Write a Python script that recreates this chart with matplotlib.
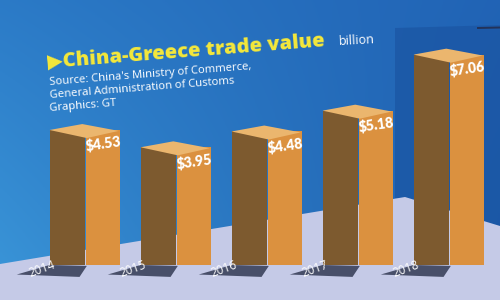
import numpy as np
import matplotlib
matplotlib.use("Agg")
import matplotlib.pyplot as plt
from matplotlib.patches import Polygon

years = ["2014", "2015", "2016", "2017", "2018"]
values = [4.53, 3.95, 4.48, 5.18, 7.06]
labels = ["$4.53", "$3.95", "$4.48", "$5.18", "$7.06"]
title = "\u25b6China-Greece trade value"
unit = "billion"
source_lines = ["Source: China's Ministry of Commerce,",
                "General Administration of Customs",
                "Graphics: GT"]

W, H = 500, 300
fig = plt.figure(figsize=(5, 3), dpi=100)

# background axes in pixel coordinates
bg = fig.add_axes([0, 0, 1, 1])
bg.set_xlim(0, W)
bg.set_ylim(H, 0)
bg.axis("off")
xx, yy = np.meshgrid(np.linspace(0, 1, 200), np.linspace(0, 1, 120))
c_tl = np.array([0.17, 0.48, 0.78])
c_tr = np.array([0.13, 0.39, 0.71])
c_bl = np.array([0.23, 0.59, 0.85])
c_br = np.array([0.11, 0.36, 0.67])
img = ((1 - xx)[..., None] * ((1 - yy)[..., None] * c_tl + yy[..., None] * c_bl)
       + xx[..., None] * ((1 - yy)[..., None] * c_tr + yy[..., None] * c_br))
bg.imshow(img, extent=(0, W, H, 0), aspect="auto", zorder=0)
# slightly darker wall block on the right
bg.add_patch(Polygon([(395, 28), (500, 25), (500, 226), (405, 198), (395, 198)],
                     closed=True, color="#1b56a4", alpha=0.75, zorder=1, lw=0))
bg.plot([478, 500], [28, 27.5], color="#23335a", lw=1.4, zorder=1)
# floor
bg.add_patch(Polygon([(0, 264), (405, 197), (500, 226), (500, 300), (0, 300)],
                     closed=True, color="#c5cae7", zorder=2, lw=0))

# title texts
bg.text(48, 68, title, color="#f5e83a", fontsize=14.5, fontweight="heavy",
        family=["Open Sans", "DejaVu Sans"], rotation=4.5, rotation_mode="anchor",
        ha="left", va="baseline", zorder=5)
bg.text(339, 45, unit, color="white", fontsize=9, family="Open Sans",
        rotation=3, rotation_mode="anchor", ha="left", va="baseline", zorder=5)
for i, line in enumerate(source_lines):
    bg.text(50, 85 + 12.8 * i, line, color="white", fontsize=8.1, family="Open Sans",
            rotation=4.5, rotation_mode="anchor", ha="left", va="baseline", zorder=5)

# data axes
ax = fig.add_axes([0, 0, 1, 1])
ax.patch.set_alpha(0)
ax.axis("off")
px_x, px_y = 91.0, 29.8
x0_px, base_px = 85.0, 265.0
ax.set_xlim(-x0_px / px_x, (W - x0_px) / px_x)
ax.set_ylim(-(H - base_px) / px_y, base_px / px_y)

x = np.arange(len(years))
hw = 0.39
dark, orange, tan = "#7d5a2f", "#db913f", "#ebb66e"

for xi, v in zip(x, values):
    ax.add_patch(Polygon([(xi - hw, 0.0), (xi + 0.02, -0.03), (xi - 0.06, -0.40), (xi - hw - 0.36, -0.32)],
                         closed=True, color="#323953", alpha=0.85, lw=0, zorder=2))

ax.bar(x - hw / 2, values, width=hw, color=dark, zorder=3, lw=0)
ax.bar(x + hw / 2, values, width=hw * 0.95, color=orange, zorder=3, lw=0)
for xi, v in zip(x, values):
    ax.add_patch(Polygon([(xi - hw, v), (xi - 0.03, v + 0.2), (xi + hw * 0.95, v - 0.03), (xi + 0.02, v - 0.27)],
                         closed=True, color=tan, lw=0, zorder=4))

for xi, v, lab in zip(x, values, labels):
    ax.text(xi + 0.02, v - 0.72, lab, color="white", fontsize=10, fontweight="heavy",
            family="Lato", rotation=8, rotation_mode="anchor", ha="left", va="baseline", zorder=6)

for xi, yr in zip(x, years):
    ax.text(xi - 0.47, -0.14, yr, color="white", fontsize=8.5, family="Open Sans",
            rotation=20, ha="center", va="center", zorder=6)

fig.savefig("out.png", dpi=100)
